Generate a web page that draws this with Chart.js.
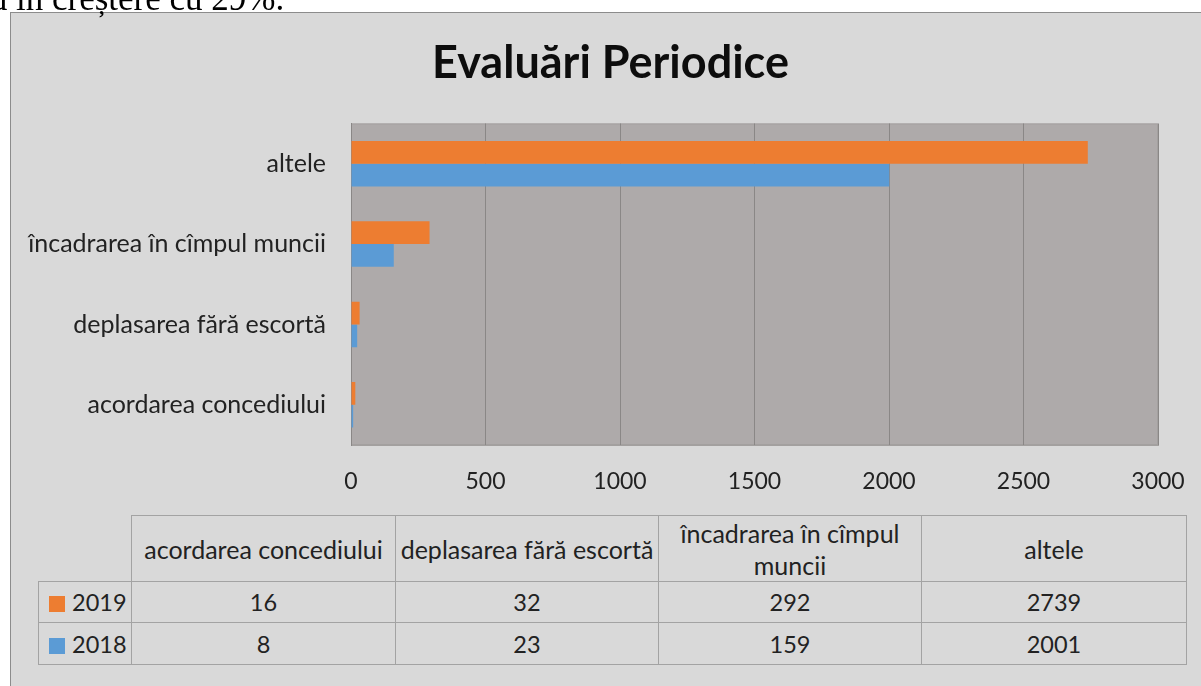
<!DOCTYPE html>
<html>
<head>
<meta charset="utf-8">
<script src="https://cdn.jsdelivr.net/npm/chart.js@4.4.0/dist/chart.umd.min.js"></script>
<style>
  html, body { margin: 0; padding: 0; background: #fff; width: 1201px; height: 686px; overflow: hidden; }
  .note { position: absolute; top: -19px; font-family: "Liberation Serif", serif; font-size: 35px; line-height: 35px; color: #000; white-space: nowrap; z-index: 3; }
  #frame { position: absolute; left: 10px; top: 12px; width: 1200px; height: 690px; background: #d9d9d9; border: 1px solid #8c8c8c; }
  #chart { position: absolute; left: 0; top: 0; z-index: 1; }
  #table { position: absolute; left: 38px; top: 515px; width: 1148px; table-layout: fixed; border-collapse: collapse; z-index: 2; font-family: Lato, sans-serif; font-size: 23.5px; color: #222; }
  #table td { border: 1px solid #a3a3a3; text-align: center; padding: 0 2px; }
  #table tr.head td { font-size: 25px; line-height: 32px; }
  #table td.empty { border-top: none; border-left: none; }
  #table td.series { text-align: left; padding-left: 10px; white-space: nowrap; }
  .swatch { display: inline-block; width: 16px; height: 16px; margin-right: 7px; vertical-align: -1px; }
</style>
</head>
<body>
<div class="note" style="right: calc(100% - 16px);">fiind&nbsp;</div>
<div class="note" style="left: 16px;">în creștere cu 29%.</div>
<div id="frame"></div>
<canvas id="chart" width="1201" height="505"></canvas>
<table id="table"></table>
<script>
const categories = ['acordarea concediului', 'deplasarea fără escortă', 'încadrarea în cîmpul muncii', 'altele'];
const seriesNames = ['2019', '2018'];
const values2019 = [16, 32, 292, 2739];
const values2018 = [8, 23, 159, 2001];
const seriesColors = ['#ED7D31', '#5B9BD5'];
const xTicks = [0, 500, 1000, 1500, 2000, 2500, 3000];

const seriesValues = [values2019, values2018];

// data table under the chart
const table = document.getElementById('table');
const colWidths = [93, 264, 263, 263, 265];
let html = '<colgroup>' + colWidths.map(w => '<col style="width:' + w + 'px">').join('') + '</colgroup>';
html += '<tr class="head" style="height:66px"><td class="empty"></td>';
categories.forEach(c => { html += '<td>' + c + '</td>'; });
html += '</tr>';
seriesNames.forEach((name, s) => {
    html += '<tr style="height:' + (s === 0 ? 41 : 42) + 'px"><td class="series"><span class="swatch" style="background:' + seriesColors[s] + '"></span>' + name + '</td>';
    seriesValues[s].forEach(v => { html += '<td>' + v + '</td>'; });
    html += '</tr>';
});
table.innerHTML = html;

const plotBackground = {
    id: 'plotBackground',
    beforeDraw(chart) {
        const { ctx, chartArea: a } = chart;
        ctx.save();
        ctx.fillStyle = '#aeaaaa';
        ctx.fillRect(a.left, a.top, a.width, a.height);
        ctx.strokeStyle = '#a3a09f';
        ctx.lineWidth = 1;
        ctx.strokeRect(a.left + 0.5, a.top + 0.5, a.width - 1, a.height - 1);
        ctx.restore();
    }
};

new Chart(document.getElementById('chart'), {
    type: 'bar',
    data: {
        labels: categories,
        datasets: seriesNames.map((name, s) => ({
            label: name,
            data: seriesValues[s],
            backgroundColor: seriesColors[s],
            borderWidth: 0,
            categoryPercentage: 0.565,
            barPercentage: 1.0
        }))
    },
    options: {
        indexAxis: 'y',
        responsive: false,
        animation: false,
        devicePixelRatio: 1,
        layout: { padding: { left: 20, right: 0, top: 0, bottom: 0 } },
        plugins: {
            legend: { display: false },
            tooltip: { enabled: false },
            title: {
                display: true,
                text: 'Evaluări Periodice',
                color: '#0d0d0d',
                font: { family: 'Lato', weight: 'bold', size: 45, lineHeight: 1.2 },
                padding: { top: 36, bottom: 33.5 }
            }
        },
        scales: {
            x: {
                min: 0,
                max: 3000,
                afterBuildTicks: scale => { scale.ticks = xTicks.map(v => ({ value: v })); },
                afterFit: scale => {
                    scale.height = 60;
                    scale.paddingLeft = 0;
                    scale.paddingRight = 43;
                },
                grid: { color: '#8a8786', lineWidth: 1, drawTicks: false },
                border: { color: '#a3a09f' },
                ticks: {
                    padding: 23,
                    color: '#222',
                    font: { family: 'Lato', size: 23 },
                    callback: v => String(v)
                }
            },
            y: {
                reverse: true,
                afterFit: scale => { scale.width = 331; },
                grid: { display: false },
                border: { color: '#8a8786' },
                ticks: { padding: 17, color: '#222', font: { family: 'Lato', size: 25 } }
            }
        }
    },
    plugins: [ plotBackground ]
});
</script>
</body>
</html>
